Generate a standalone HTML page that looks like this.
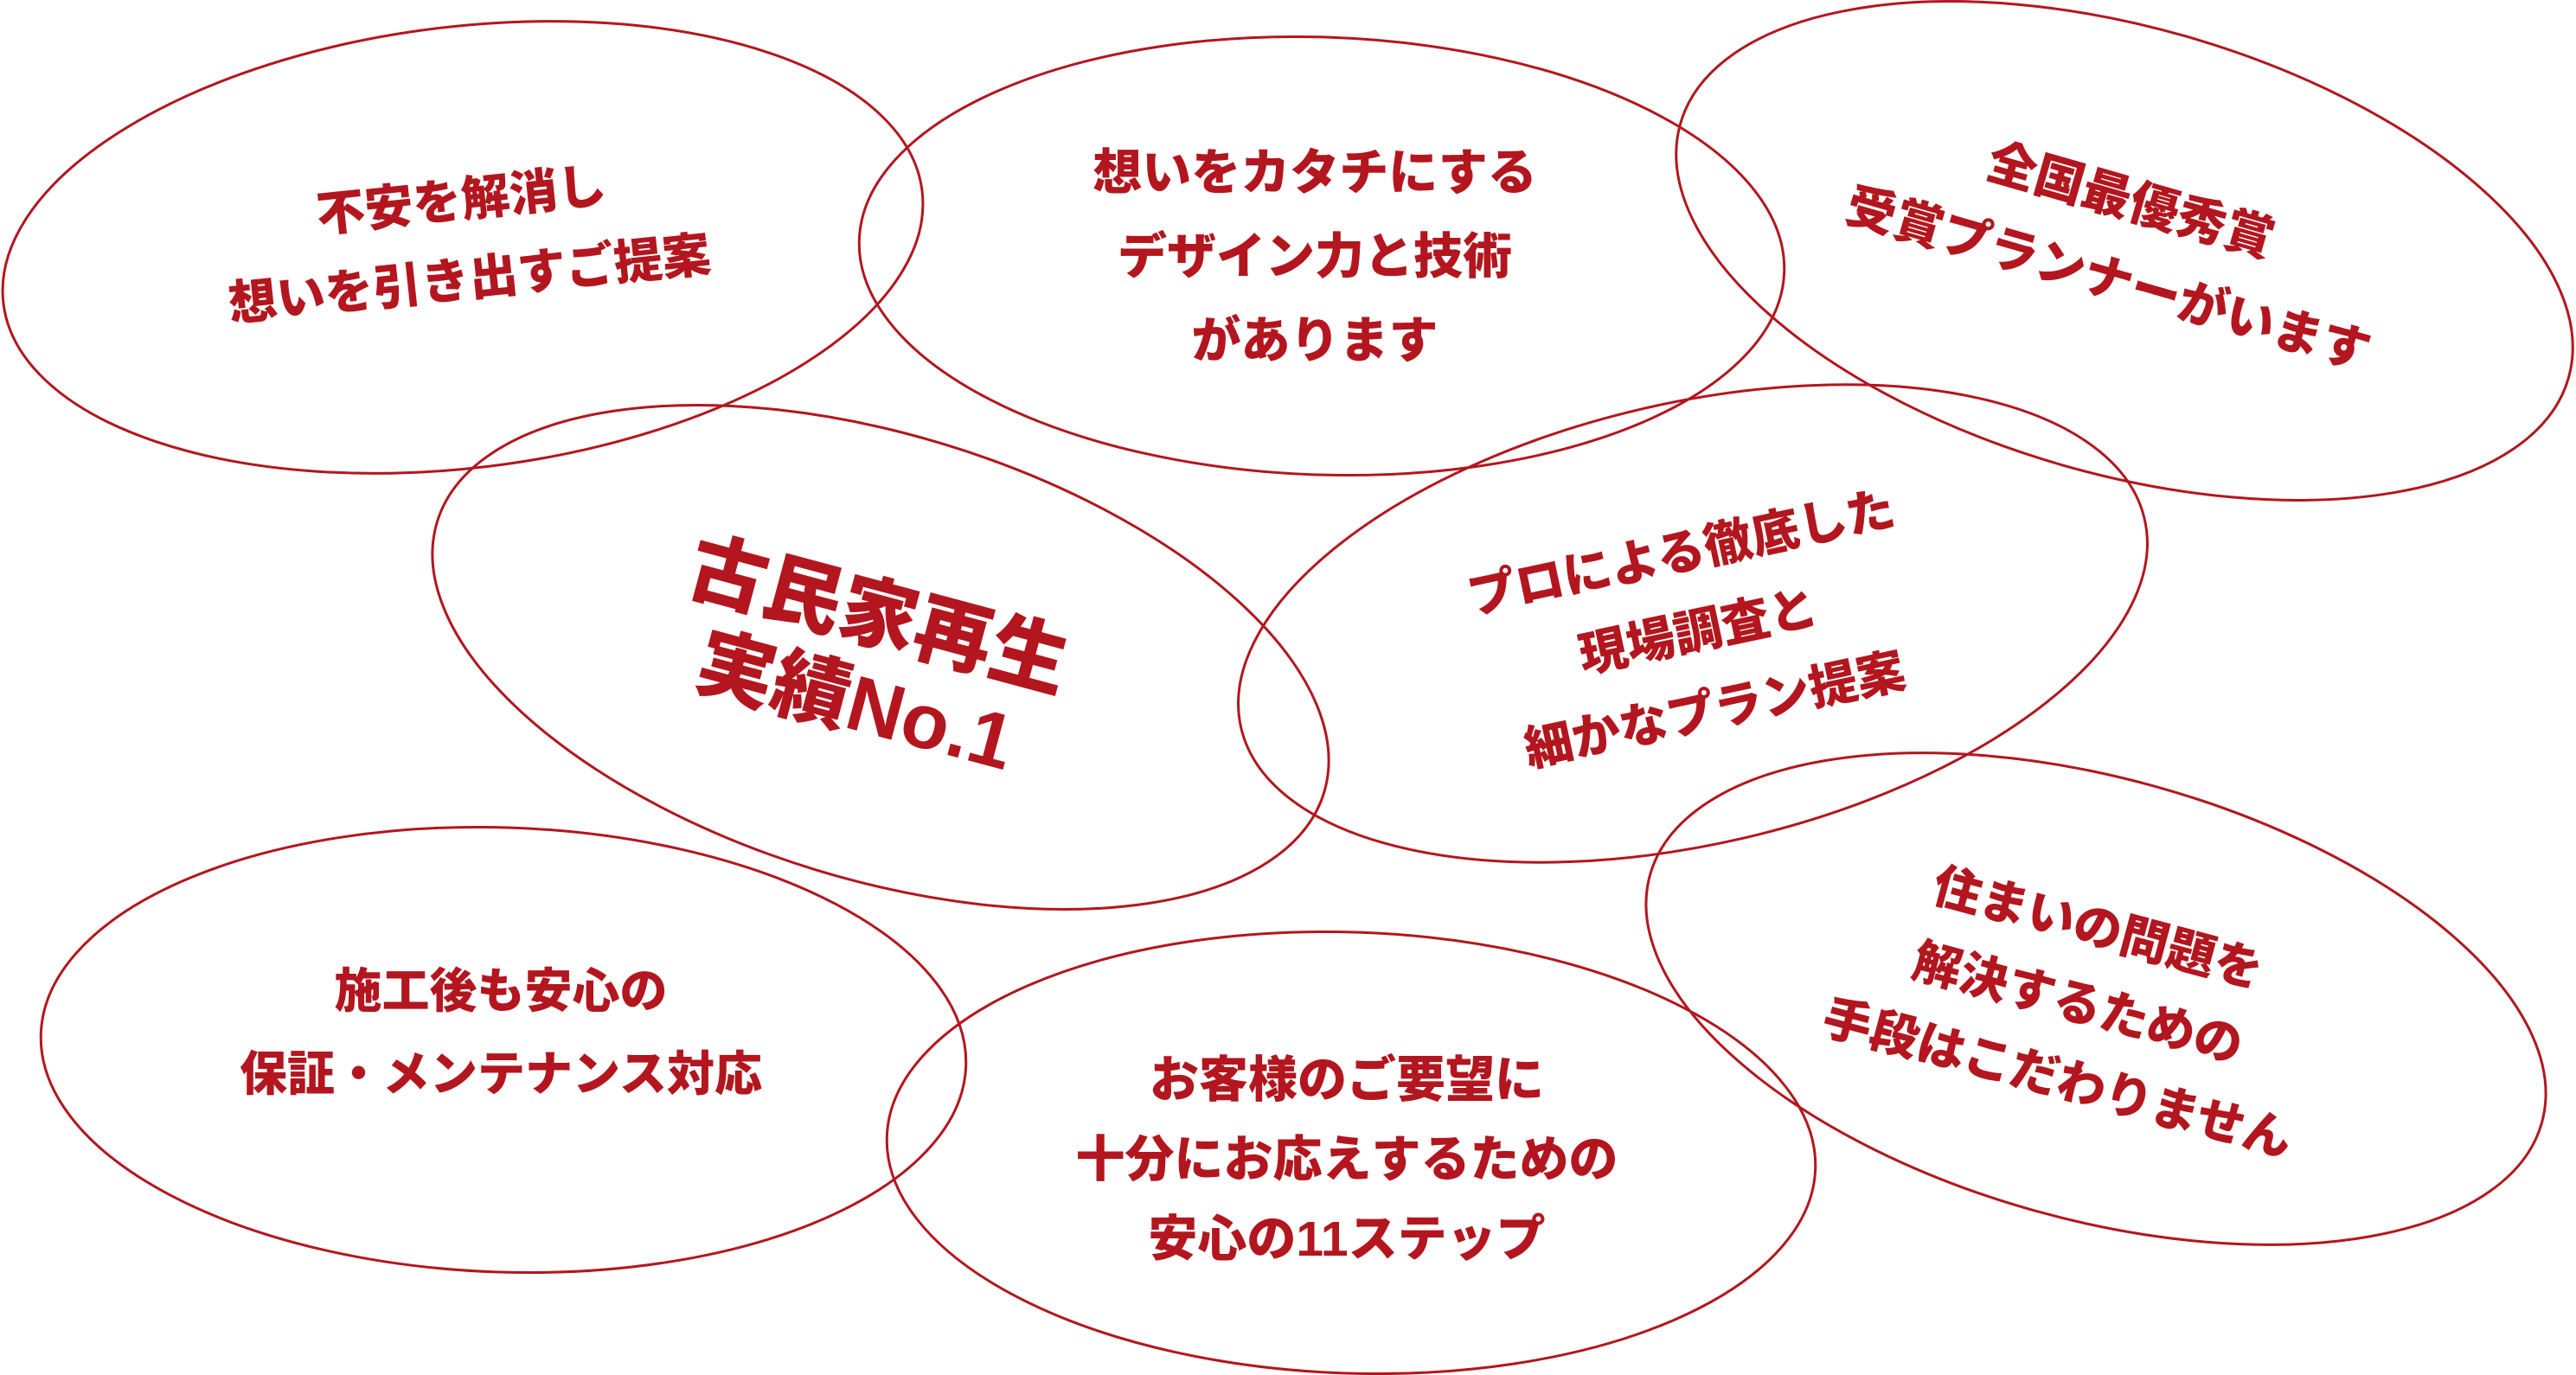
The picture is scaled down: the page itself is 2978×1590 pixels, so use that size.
<!DOCTYPE html>
<html><head><meta charset="utf-8">
<style>
html,body{margin:0;padding:0;background:#fff;}
svg{display:block;}
text{font-family:"Liberation Sans","Noto Sans CJK JP",sans-serif;font-weight:900;fill:#b3161e;text-anchor:middle;dominant-baseline:central;}
</style></head>
<body>
<svg width="2978" height="1590" viewBox="0 0 2978 1590" xmlns="http://www.w3.org/2000/svg">
<g fill="none" stroke="#b3161e" stroke-width="3">
<ellipse cx="535" cy="286" rx="535" ry="255" transform="rotate(-7 535 286)"/>
<ellipse cx="1528" cy="296" rx="535" ry="253" transform="rotate(2 1528 296)"/>
<ellipse cx="2456" cy="290" rx="534" ry="258" transform="rotate(16 2456 290)"/>
<ellipse cx="1018" cy="760" rx="536" ry="257" transform="rotate(17 1018 760)"/>
<ellipse cx="1957" cy="721" rx="536" ry="255" transform="rotate(-13 1957 721)"/>
<ellipse cx="582" cy="1214" rx="535" ry="257" transform="rotate(2 582 1214)"/>
<ellipse cx="1562" cy="1333" rx="537" ry="255" transform="rotate(2 1562 1333)"/>
<ellipse cx="2423" cy="1155" rx="535" ry="255" transform="rotate(15.5 2423 1155)"/>
</g>

<g transform="translate(538 277) rotate(-6)" font-size="56">
<text x="0" y="-46">不安を解消し</text>
<text x="0" y="46">想いを引き出すご提案</text>
</g>

<g transform="translate(1520 297)" font-size="57">
<text x="0" y="-97">想いをカタチにする</text>
<text x="0" y="0">デザイン力と技術</text>
<text x="0" y="97">があります</text>
</g>

<g transform="translate(2450 278) rotate(16)" font-size="57">
<text x="0" y="-47">全国最優秀賞</text>
<text x="0" y="47">受賞プランナーがいます</text>
</g>

<g transform="translate(1002 763) rotate(15)" font-size="90">
<text x="0" y="-52">古民家再生</text>
<text x="0" y="52">実績No.1</text>
</g>

<g transform="translate(1963 730) rotate(-12)" font-size="56">
<text x="0" y="-93">プロによる徹底した</text>
<text x="0" y="0">現場調査と</text>
<text x="0" y="93">細かなプラン提案</text>
</g>

<g transform="translate(579 1194)" font-size="55">
<text x="0" y="-48">施工後も安心の</text>
<text x="0" y="48">保証・メンテナンス対応</text>
</g>

<g transform="translate(1557 1341)" font-size="57">
<text x="0" y="-92">お客様のご要望に</text>
<text x="0" y="0">十分にお応えするための</text>
<text x="0" y="92">安心の11ステップ</text>
</g>

<g transform="translate(2402 1160) rotate(15)" font-size="56">
<text x="0" y="-90">住まいの問題を</text>
<text x="0" y="0">解決するための</text>
<text x="0" y="90">手段はこだわりません</text>
</g>
</svg>
</body></html>
